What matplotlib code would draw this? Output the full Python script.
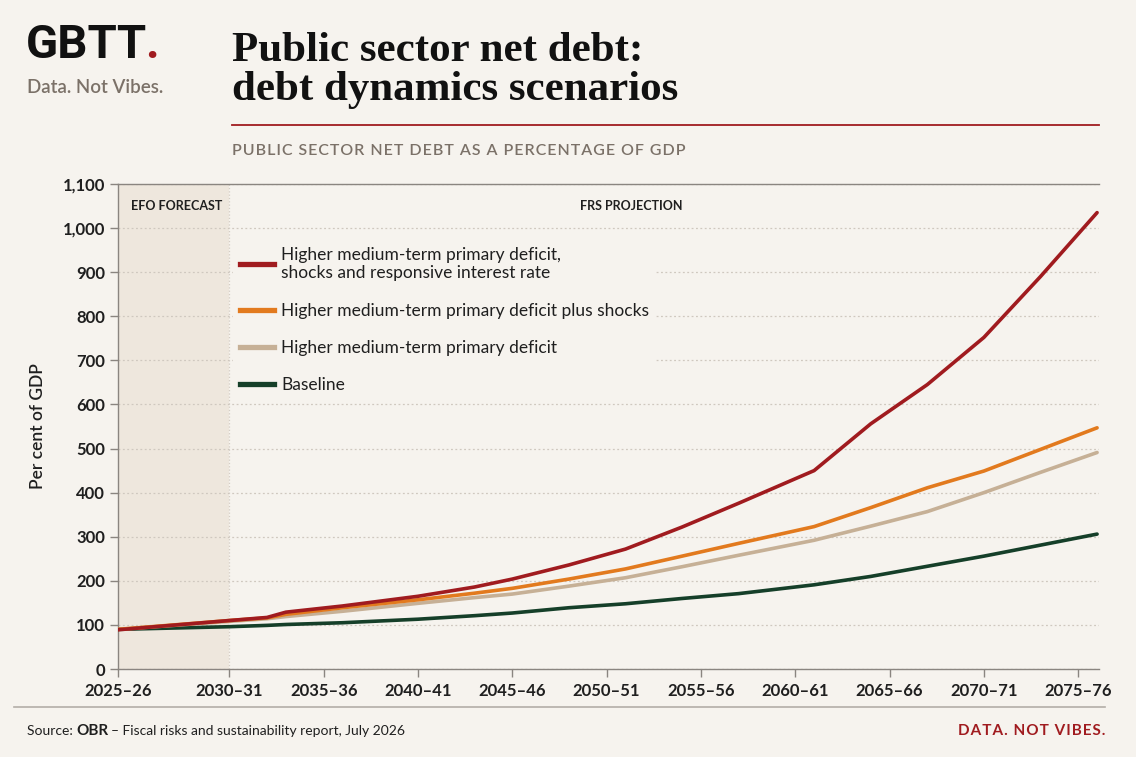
# Public sector net debt - debt dynamics scenarios (GBTT style)

import numpy as np
import matplotlib
matplotlib.use('Agg')
import matplotlib.pyplot as plt
from matplotlib.lines import Line2D

# Data (start year of each fiscal year, per cent of GDP)
years = [2025, 2030, 2032, 2033, 2036, 2040, 2043, 2045, 2048, 2051,
         2054, 2057, 2061, 2064, 2067, 2070, 2073, 2076]
shocks_rate = [89, 110, 117, 129, 143, 165, 186, 204, 236, 272,
               322, 376, 450, 556, 645, 752, 890, 1035]
shocks = [90, 110, 116, 124, 139, 157, 172, 183, 204, 227,
          256, 285, 323, 366, 411, 449, 498, 547]
deficit = [90, 108, 114, 119, 131, 149, 162, 170, 188, 207,
           232, 258, 292, 324, 357, 400, 446, 491]
baseline = [90, 96, 99, 101, 105, 113, 121, 127, 139, 148,
            160, 171, 191, 210, 233, 256, 281, 306]

tick_years = [2025, 2030, 2035, 2040, 2045, 2050, 2055, 2060, 2065, 2070, 2075]
tick_labels = ['2025\u201326', '2030\u201331', '2035\u201336', '2040\u201341',
               '2045\u201346', '2050\u201351', '2055\u201356', '2060\u201361',
               '2065\u201366', '2070\u201371', '2075\u201376']
y_ticks = list(range(0, 1101, 100))

labels = ['Higher medium-term primary deficit,\nshocks and responsive interest rate',
          'Higher medium-term primary deficit plus shocks',
          'Higher medium-term primary deficit',
          'Baseline']
colors = ['#a01b1f', '#e27a1e', '#c6b096', '#153f29']

bg = '#f6f3ee'
dark = '#1f1f1f'
grey = '#7b7168'
red = '#a01b1f'

# EFO forecast years are drawn wider than the projection years
stretch = 1.18

def fwd(x):
    x = np.asarray(x, dtype=float)
    return np.where(x <= 2030, (x - 2025) * stretch, 5 * stretch + (x - 2030))

def inv(v):
    v = np.asarray(v, dtype=float)
    return np.where(v <= 5 * stretch, 2025 + v / stretch, 2030 + v - 5 * stretch)

def spaced(s):
    # crude letter spacing with hair spaces
    return '\u200a'.join(s)

plt.rcParams['font.family'] = ['Lato', 'DejaVu Sans']

fig = plt.figure(figsize=(11.36, 7.57), dpi=100, facecolor=bg)
ax = fig.add_axes([0.1039, 0.1162, 0.8635, 0.6408], facecolor=bg)
ax.set_xscale('function', functions=(fwd, inv))

# shaded forecast period
ax.axvspan(2025, 2030, color='#eee7dd', zorder=0, lw=0)
ax.axvline(2030, color='#d4cdc4', lw=0.9, ls=':', zorder=1)

series = [shocks_rate, shocks, deficit, baseline]
for vals, c in zip(series[::-1], colors[::-1]):
    ax.plot(years, vals, color=c, lw=2.6, solid_capstyle='round',
            solid_joinstyle='round', zorder=3)
handles = [Line2D([0], [0], color=c, lw=3.8, label=lab)
           for c, lab in zip(colors, labels)]

ax.set_xlim(2025, 2076.1)
ax.set_ylim(0, 1100)
ax.set_xticks(tick_years)
ax.set_xticklabels(tick_labels)
ax.set_yticks(y_ticks)
ax.set_yticklabels([f'{v:,}' for v in y_ticks])
ax.xaxis.set_minor_locator(matplotlib.ticker.NullLocator())

ax.yaxis.grid(True, color='#cfc8bf', lw=0.9, ls=(0, (1.5, 2)))
ax.set_axisbelow(True)
for s in ['left', 'bottom', 'top']:
    ax.spines[s].set_color('#8a8580')
    ax.spines[s].set_linewidth(1.0)
ax.spines['right'].set_visible(False)
ax.tick_params(axis='both', colors='#8a8580', length=6, width=1.0,
               labelcolor=dark, labelsize=12)
ax.tick_params(axis='x', pad=4)
for t in ax.get_xticklabels() + ax.get_yticklabels():
    t.set_fontweight('bold')

ax.set_ylabel('Per cent of GDP', fontsize=12.5, color=dark, labelpad=12,
              fontweight='semibold')

ax.text(2025.6, 1050, 'EFO FORECAST', fontsize=9, fontweight='bold',
        color=dark, va='center', ha='left')
ax.text(2051.3, 1050, 'FRS PROJECTION', fontsize=9, fontweight='bold',
        color=dark, va='center', ha='center')

leg = ax.legend(handles=handles, loc='upper left', bbox_to_anchor=(0.108, 0.903),
                frameon=True, facecolor=bg, edgecolor='none', framealpha=1,
                fontsize=12.5, handlelength=2.0, handletextpad=0.4,
                labelspacing=1.23, borderpad=0.4)
for t in leg.get_texts():
    t.set_color(dark)

# header
fig.text(0.023, 0.94, 'GBTT', fontsize=34, fontweight='bold', color='#111111',
         va='center', ha='left', family='Roboto')
fig.text(0.128, 0.94, '.', fontsize=34, fontweight='bold', color=red,
         va='center', ha='left', family='Roboto')
fig.text(0.024, 0.884, 'Data. Not Vibes.', fontsize=13.5, color=grey,
         va='center', ha='left', fontweight='semibold')
fig.text(0.204, 0.907, 'Public sector net debt:\ndebt dynamics scenarios',
         fontsize=31, fontweight='bold', color='#111111', va='center', ha='left',
         family='Liberation Serif', linespacing=1.05)
fig.add_artist(Line2D([0.204, 0.9674], [0.835, 0.835], color=red, lw=1.3))
fig.text(0.204, 0.8, spaced('PUBLIC SECTOR NET DEBT AS A PERCENTAGE OF GDP'),
         fontsize=11.5, color=grey, va='center', ha='left', fontweight='semibold')

# footer
fig.add_artist(Line2D([0.012, 0.973], [0.066, 0.066], color='#b3aea8', lw=1.2))
fig.text(0.024, 0.034, 'Source: ', fontsize=10, color=dark, va='center', ha='left')
fig.text(0.067, 0.034, 'OBR', fontsize=11, color=dark, va='center', ha='left',
         fontweight='bold')
fig.text(0.098, 0.034, '\u2013 Fiscal risks and sustainability report, July 2026',
         fontsize=10, color=dark, va='center', ha='left')
fig.text(0.973, 0.034, spaced('DATA. NOT VIBES.'), fontsize=11, color=red,
         va='center', ha='right', fontweight='bold')

fig.savefig('out.png', dpi=100, facecolor=bg)
